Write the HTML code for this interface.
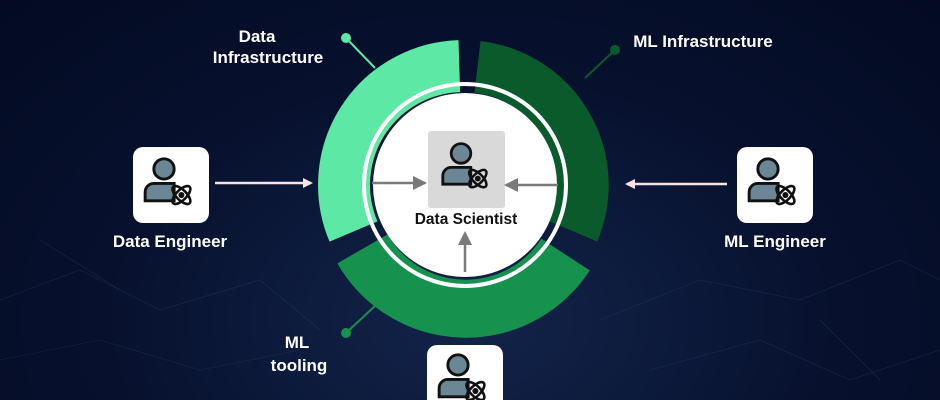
<!DOCTYPE html>
<html><head><style>
html,body{margin:0;width:940px;height:400px;overflow:hidden}
body{background:radial-gradient(ellipse at 50% 80%,#13244a 0%,#07112e 55%,#030a22 100%);font-family:"Liberation Sans",sans-serif;position:relative}
svg{position:absolute;left:0;top:0;display:block}
</style></head><body>
<svg width="940" height="400" viewBox="0 0 940 400">
<defs>
<g id="person">
<circle cx="0" cy="-9" r="7" fill="#6b8795" stroke="#111" stroke-width="2"/>
<path d="M-13 13 v-6 a6 6 0 0 1 6 -6 h14 v12 z" fill="#6b8795" stroke="#111" stroke-width="2"/>
<g transform="translate(12,9)" fill="none" stroke="#111" stroke-width="1.8">
<ellipse rx="8" ry="3.5" transform="rotate(45)"/><ellipse rx="8" ry="3.5" transform="rotate(-45)"/><circle r="1.2" fill="#111"/>
</g>
</g>
<clipPath id="cp"><rect x="0" y="0" width="940" height="400"/></clipPath>
<marker id="ap" markerWidth="10" markerHeight="10" refX="8" refY="5" orient="auto" markerUnits="userSpaceOnUse"><path d="M0 0 L10 5 L0 10z" fill="#f6e4e4"/></marker>
<marker id="ag" markerWidth="14" markerHeight="14" refX="12" refY="7" orient="auto" markerUnits="userSpaceOnUse"><path d="M0 0 L14 7 L0 14z" fill="#7a7a7a"/></marker>
</defs>
<g clip-path="url(#cp)">
<g opacity="0.25" stroke="#4a6aa0" stroke-width="0.6" fill="none">
<path d="M0 300 L80 270 L160 310 L260 280 L320 330 M600 320 L700 280 L800 300 L900 260 L940 280 M0 360 L100 340 L200 370 L300 350 M650 370 L760 340 L850 380 L940 350 M40 240 L120 290 M820 320 L880 380"/>
</g>
<g fill="none" stroke-width="52">
<path d="M 459.3 66.1 A 119 119 0 0 0 353.5 231.5" stroke="#5de8a6"/>
<path d="M 477.5 66.9 A 119 119 0 0 1 573.3 231.4" stroke="#0b5a2c"/>
<path d="M 565.5 254.6 A 119 119 0 0 1 362.5 248.9" stroke="#16924e" stroke-width="58"/>
</g>
<circle cx="465" cy="185" r="101" fill="none" stroke="#fff" stroke-width="4"/>
<circle cx="465" cy="185" r="92" fill="#fff"/>
<line x1="346" y1="38" x2="375" y2="68" stroke="#5de8a6" stroke-width="2"/><circle cx="346" cy="38" r="5" fill="#5de8a6"/>
<line x1="615" y1="50" x2="585" y2="78" stroke="#0b5a2c" stroke-width="2"/><circle cx="615" cy="50" r="5" fill="#0b5a2c"/>
<line x1="346" y1="333" x2="376" y2="305" stroke="#16924e" stroke-width="2"/><circle cx="346" cy="333" r="5" fill="#16924e"/>
<rect x="428" y="131" width="77" height="77" rx="3" fill="#d9d9d9"/>
<use href="#person" transform="translate(461,166) scale(1.4)"/>
<text x="466" y="224" font-size="15.5" font-weight="bold" fill="#111" text-anchor="middle">Data Scientist</text>
<line x1="372" y1="183" x2="425" y2="183" stroke="#7a7a7a" stroke-width="2.5" marker-end="url(#ag)"/>
<line x1="558" y1="185" x2="506" y2="185" stroke="#7a7a7a" stroke-width="2.5" marker-end="url(#ag)"/>
<line x1="465" y1="272" x2="465" y2="233" stroke="#7a7a7a" stroke-width="2.5" marker-end="url(#ag)"/>
<rect x="133" y="147" width="76" height="76" rx="10" fill="#fff"/>
<use href="#person" transform="translate(164,182) scale(1.45)"/>
<rect x="737" y="147" width="76" height="76" rx="10" fill="#fff"/>
<use href="#person" transform="translate(768,182) scale(1.45)"/>
<path d="M427 400 V355 a10 10 0 0 1 10 -10 h56 a10 10 0 0 1 10 10 V400 z" fill="#fff"/>
<g clip-path="url(#cp)"><use href="#person" transform="translate(458,378) scale(1.45)"/></g>
<line x1="215" y1="183" x2="311" y2="183" stroke="#f6e4e4" stroke-width="2.5" marker-end="url(#ap)"/>
<line x1="727" y1="184" x2="627" y2="184" stroke="#f6e4e4" stroke-width="2.5" marker-end="url(#ap)"/>
<g fill="#fff" font-size="17" font-weight="bold" text-anchor="middle">
<text x="257" y="42">Data</text>
<text x="268" y="63">Infrastructure</text>
<text x="703" y="47">ML Infrastructure</text>
<text x="297" y="348">ML</text>
<text x="299" y="371">tooling</text>
<text x="170" y="247">Data Engineer</text>
<text x="775" y="247">ML Engineer</text>
</g>
</g>
</svg>
</body></html>
